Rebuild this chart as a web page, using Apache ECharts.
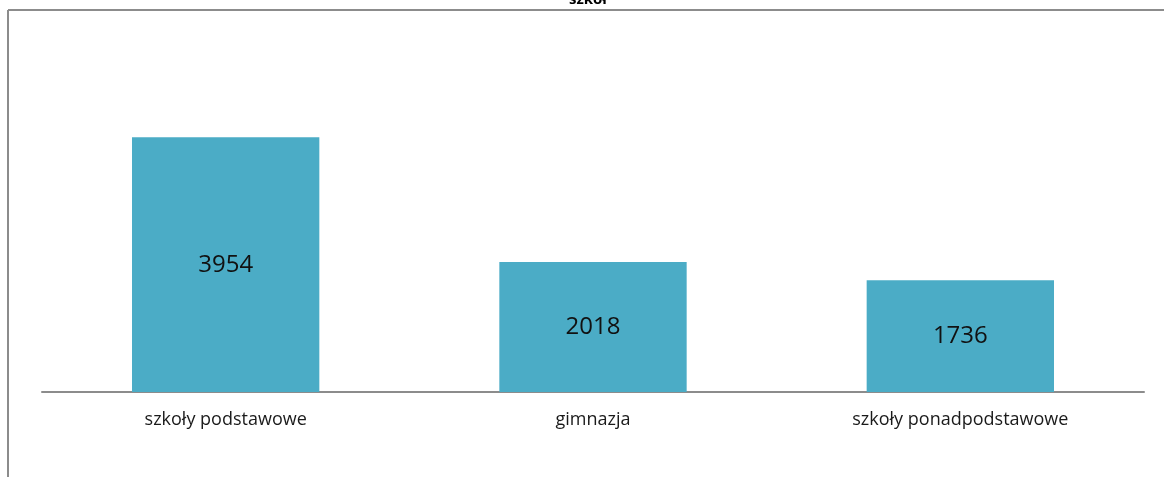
<!doctype html>
<html>
<head>
    <meta charset="utf-8">
    <title>szkół</title>
    <style>
        html, body { margin: 0; padding: 0; background: #fff; }
        #chart { width: 1164px; height: 477px; }
    </style>
</head>
<body>
<div id="chart"></div>
<script src="https://cdn.jsdelivr.net/npm/echarts@6/dist/echarts.min.js"></script>
<script>
    // dane
    var categories = ['szkoły podstawowe', 'gimnazja', 'szkoły ponadpodstawowe'];
    var values = [3954, 2018, 1736];
    var titleText = 'szkół';

    var myChart = echarts.init(document.getElementById('chart'));
    var option = {
        animation: false,
        textStyle: { fontFamily: 'Open Sans' },
        graphic: [
            // ramka wykresu (lewa i górna krawędź)
            { type: 'line', shape: { x1: 8, y1: 10, x2: 8, y2: 477 }, style: { stroke: '#8c8c8c', lineWidth: 2 } },
            { type: 'line', shape: { x1: 8, y1: 10, x2: 1164, y2: 10 }, style: { stroke: '#8c8c8c', lineWidth: 2 } },
            { type: 'text', left: 569, top: -8, style: { text: titleText, font: 'bold 15px "Open Sans"', fill: '#000' } }
        ],
        grid: { left: 42, right: 20, top: 70, bottom: 85 },
        xAxis: {
            type: 'category',
            data: categories,
            axisTick: { show: false },
            axisLine: { lineStyle: { color: '#8c8c8c', width: 2 } },
            axisLabel: { color: '#1a1a1a', fontSize: 18, margin: 19 }
        },
        yAxis: {
            type: 'value',
            min: 0,
            max: 5000,
            show: false
        },
        series: [{
            type: 'bar',
            data: values,
            barWidth: '51%',
            itemStyle: { color: '#4bacc6' },
            label: {
                show: true,
                position: 'inside',
                color: '#111',
                fontSize: 24
            }
        }]
    };
    myChart.setOption(option);
</script>
</body>
</html>
